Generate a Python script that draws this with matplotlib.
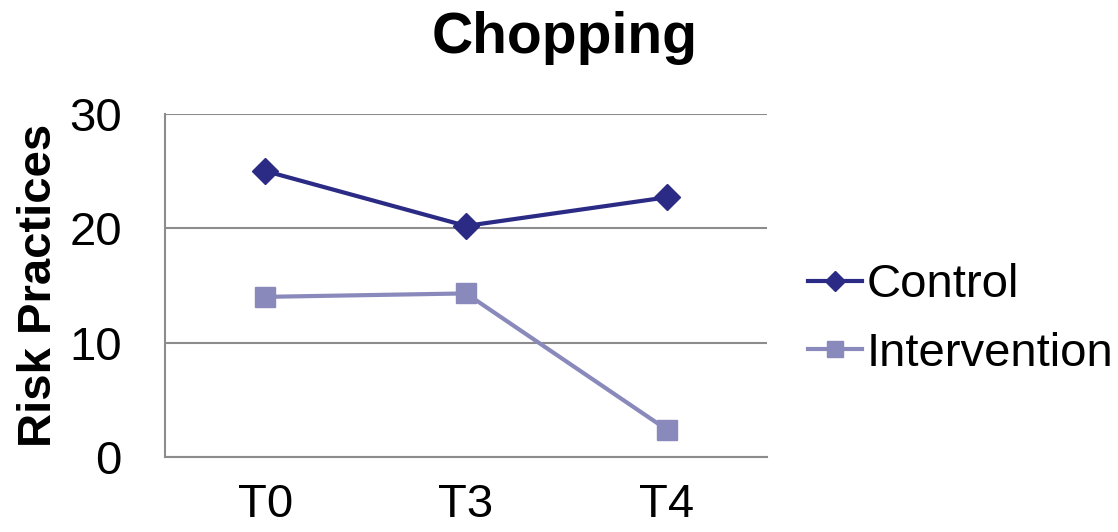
import numpy as np
import matplotlib.pyplot as plt

plt.rcParams['font.family'] = ['Liberation Sans', 'DejaVu Sans']

# Données
categories = ['T0', 'T3', 'T4']
control = [25.0, 20.2, 22.7]
intervention = [14.0, 14.3, 2.4]

fig = plt.figure(figsize=(11.18, 5.32), dpi=100)
ax = fig.add_axes([0.1476, 0.141, 0.5385, 0.645])

x = np.arange(len(categories))
ax.plot(x, control, color='#2B2A85', lw=3, marker='D', ms=13, label='Control')
ax.plot(x, intervention, color='#8A89BC', lw=3, marker='s', ms=15, label='Intervention')

ax.set_xlim(-0.5, 2.5)
ax.set_ylim(0, 30)
ax.set_yticks([0, 10, 20, 30])
ax.set_xticks(x)
ax.set_xticklabels(categories)
ax.tick_params(length=0, labelsize=34)
ax.tick_params(axis='y', pad=31)
ax.tick_params(axis='x', pad=19)
ax.yaxis.grid(True, color='#8C8C8C', lw=1.5)
ax.set_axisbelow(True)

for s in ['top', 'right']:
    ax.spines[s].set_visible(False)
for s in ['left', 'bottom']:
    ax.spines[s].set_color('#8C8C8C')
    ax.spines[s].set_linewidth(1.5)

ax.set_ylabel('Risk Practices', fontsize=34, fontweight='bold', labelpad=6)
fig.text(0.505, 0.98, 'Chopping', fontsize=41, fontweight='bold', ha='center', va='top')

ax.legend(loc='center left', bbox_to_anchor=(1.028, 0.4), frameon=False,
          fontsize=34, handlelength=1.15, handletextpad=0.1, labelspacing=0.52,
          borderpad=0, markerscale=0.8)

fig.savefig('out.png', dpi=100)
